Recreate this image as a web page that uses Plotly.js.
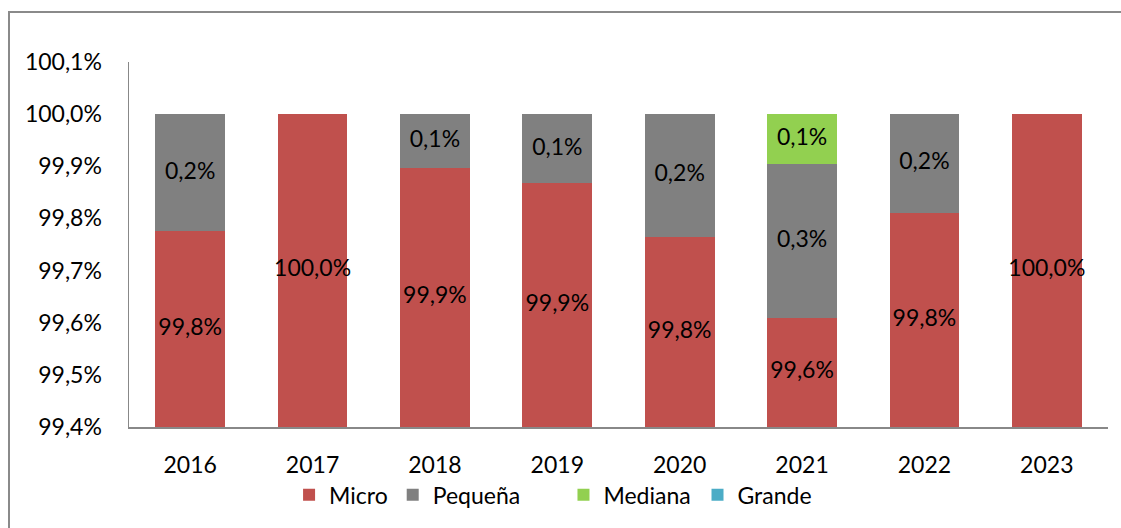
<!DOCTYPE html>
<html>
<head>
<meta charset="utf-8">
<script src="https://cdn.plot.ly/plotly-3.0.1.min.js"></script>
<style>
  html, body { margin: 0; padding: 0; background: #fff; overflow: hidden; }
  #chart { position: absolute; left: 0; top: 0; width: 1121px; height: 528px; }
  #frame { position: absolute; left: 8px; top: 11px; width: 1130px; height: 540px;
           border: 2px solid #8a8a8a; pointer-events: none; box-sizing: border-box; }
</style>
</head>
<body>
<div id="chart"></div>
<div id="frame"></div>
<script>
// ---- data (percent share of enterprises by size) ----
const years   = ['2016', '2017', '2018', '2019', '2020', '2021', '2022', '2023'];
const micro   = [99.775, 100.0, 99.896, 99.867, 99.765, 99.610, 99.811, 100.0];
const pequena = [0.225, 0.0, 0.104, 0.133, 0.235, 0.294, 0.189, 0.0];
const mediana = [0.0, 0.0, 0.0, 0.0, 0.0, 0.096, 0.0, 0.0];
const grande  = [0.0, 0.0, 0.0, 0.0, 0.0, 0.0, 0.0, 0.0];
const seriesNames = ['Micro', 'Pequeña', 'Mediana', 'Grande'];
const tickValues = [99.4, 99.5, 99.6, 99.7, 99.8, 99.9, 100.0, 100.1];

const seriesData = [micro, pequena, mediana, grande];
const colors = ['#C0504D', '#808080', '#92D050', '#4BACC6'];
const legendOf = ['legend', 'legend', 'legend2', 'legend3'];
const yMin = 99.4, yMax = 100.1;
const FONT = 'Lato, "Open Sans", sans-serif';
const FS = 23;

const fmt = v => v.toFixed(1).replace('.', ',') + '%';

const traces = [];
seriesData.forEach((vals, i) => {
  traces.push({
    type: 'bar', name: seriesNames[i], x: years, y: vals,
    legend: legendOf[i],
    marker: { color: colors[i], line: { width: 0 } },
    hoverinfo: 'skip'
  });
});

// label traces: centered on the visible part of each segment
const cum = years.map(() => 0);
seriesData.forEach((vals, i) => {
  const lx = [], ly = [], lt = [];
  vals.forEach((v, j) => {
    const lo = cum[j], hi = cum[j] + v;
    cum[j] = hi;
    if (v > 0) {
      const a = Math.max(lo, yMin), b = Math.min(hi, yMax);
      lx.push(years[j]); ly.push((a + b) / 2); lt.push(fmt(v));
    }
  });
  traces.push({
    type: 'scatter', mode: 'text', x: lx, y: ly, text: lt,
    textposition: 'middle center',
    textfont: { family: FONT, size: FS, color: '#000' },
    showlegend: false, hoverinfo: 'skip', cliponaxis: false
  });
});

const legendBase = {
  orientation: 'h', traceorder: 'normal',
  xanchor: 'left', y: -0.186, yanchor: 'middle',
  font: { family: FONT, size: FS, color: '#000' },
  bgcolor: 'rgba(0,0,0,0)'
};

const layout = {
  width: 1121, height: 528,
  margin: { l: 129, r: 13, t: 62, b: 101 },
  paper_bgcolor: 'rgba(0,0,0,0)', plot_bgcolor: '#fff',
  barmode: 'stack', bargap: 0.43,
  separators: ',.',
  font: { family: FONT, size: FS, color: '#000' },
  xaxis: {
    type: 'category', showgrid: false, zeroline: false,
    showline: true, linecolor: '#888', linewidth: 2,
    ticks: '', ticklabelstandoff: 16,
    tickfont: { family: FONT, size: FS, color: '#000' }
  },
  yaxis: {
    range: [yMin, yMax], showgrid: false, zeroline: false,
    showline: true, linecolor: '#888', linewidth: 1.5,
    tickmode: 'array', tickvals: tickValues,
    ticktext: tickValues.map(fmt),
    ticks: '', ticklabelstandoff: 21,
    tickfont: { family: FONT, size: FS, color: '#000' }
  },
  showlegend: true,
  legend: Object.assign({}, legendBase, { x: 0.1635 }),
  legend2: Object.assign({}, legendBase, { x: 0.4438 }),
  legend3: Object.assign({}, legendBase, { x: 0.5807 })
};

Plotly.newPlot('chart', traces, layout, { staticPlot: true, displayModeBar: false });
</script>
</body>
</html>
